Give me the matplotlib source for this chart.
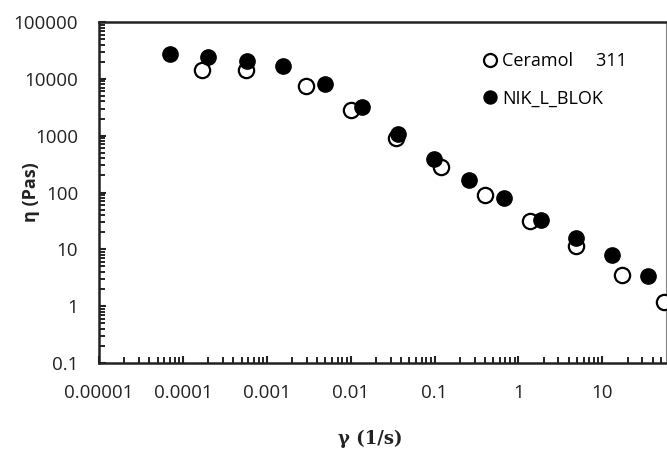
import numpy as np
import matplotlib
matplotlib.use("Agg")
import matplotlib.pyplot as plt

plt.rcParams['font.family'] = ['Open Sans', 'DejaVu Sans']

# Ceramol 311 (open circles)
ceramol_x = [1.7e-4, 5.6e-4, 2.9e-3, 0.0102, 0.035, 0.12, 0.40, 1.38, 4.9, 17.0, 55.0]
ceramol_y = [14300, 14300, 7400, 2800, 910, 280, 90, 32, 11.4, 3.5, 1.2]

# NIK_L_BLOK (filled circles)
nik_x = [7.0e-5, 2.0e-4, 5.8e-4, 1.55e-3, 4.9e-3, 0.0138, 0.037, 0.098, 0.26, 0.68, 1.87, 4.9, 13.2, 35.0]
nik_y = [27400, 24200, 20600, 17000, 8100, 3170, 1070, 390, 165, 80, 33, 15.8, 7.9, 3.4]

xticks = [1e-5, 1e-4, 1e-3, 1e-2, 1e-1, 1, 10]
xtick_labels = ['0.00001', '0.0001', '0.001', '0.01', '0.1', '1', '10']
yticks = [0.1, 1, 10, 100, 1000, 10000, 100000]
ytick_labels = ['0.1', '1', '10', '100', '1000', '10000', '100000']

fig = plt.figure(figsize=(6.67, 4.5), dpi=100)
ax = fig.add_axes([99/667, (450-363)/450, (666-99)/667, (363-22)/450])

ax.plot(ceramol_x, ceramol_y, 'o', ms=11, mfc='white', mec='black', mew=1.6,
        label='Ceramol     311', clip_on=False, zorder=3)
ax.plot(nik_x, nik_y, 'o', ms=11, mfc='black', mec='black', mew=1.0,
        label='NIK_L_BLOK', clip_on=False, zorder=4)

ax.set_xscale('log')
ax.set_yscale('log')
ax.set_xlim(1e-5, 10**1.76)
ax.set_ylim(0.1, 100000)

ax.set_xticks(xticks)
ax.set_xticklabels(xtick_labels)
ax.set_yticks(yticks)
ax.set_yticklabels(ytick_labels)
ax.minorticks_on()
ax.tick_params(which='major', direction='in', length=5, width=1.5, labelsize=13.5,
               colors='#222222')
ax.tick_params(which='minor', direction='in', length=4, width=1.2)
ax.tick_params(axis='x', which='major', pad=15)
ax.tick_params(axis='y', which='major', pad=15)

for s in ['left', 'bottom', 'top']:
    ax.spines[s].set_linewidth(1.8)
    ax.spines[s].set_color('#222222')
ax.spines['right'].set_linewidth(0.8)
ax.spines['right'].set_color('#888888')

ax.set_ylabel('η (Pas)', fontsize=13, fontweight='bold', color='#222222')
ax.yaxis.set_label_coords(-0.104, 0.5)
ax.set_xlabel('γ (1/s)', fontsize=13, fontweight='bold', family=['DejaVu Serif'],
              color='#222222')
ax.xaxis.set_label_coords(0.478, -0.195)

ax.legend(loc='upper right', bbox_to_anchor=(0.96, 0.96), frameon=False, fontsize=13,
          handlelength=0.6, handletextpad=0.35, labelspacing=1.1, markerscale=0.85)

fig.savefig('out.png', dpi=100)
plt.close()
